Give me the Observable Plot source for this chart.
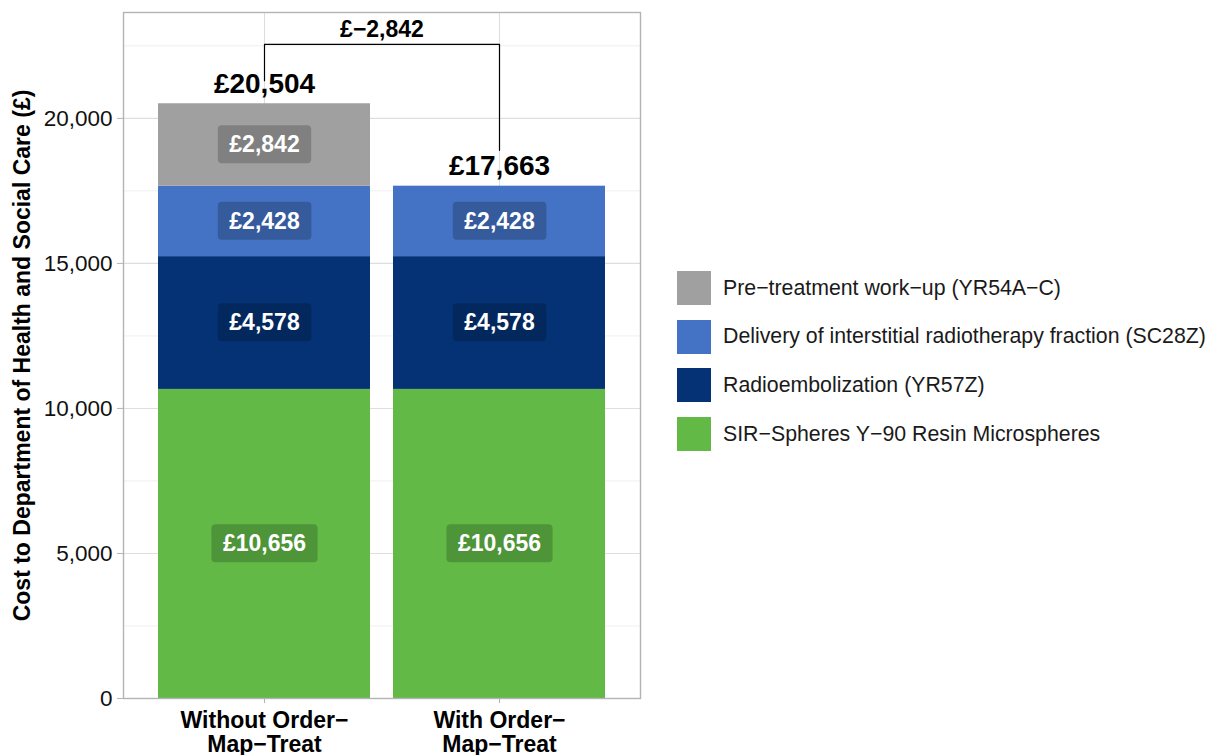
<!DOCTYPE html>
<html><head><meta charset="utf-8">
<script src="https://cdn.jsdelivr.net/npm/d3@7"></script>
<script src="https://cdn.jsdelivr.net/npm/@observablehq/plot@0.6"></script>
<style>
body{margin:0;background:#fff;font-family:"Liberation Sans",Arial,sans-serif;}
#wrap{position:relative;width:1209px;height:755px;overflow:hidden;}
#legend{position:absolute;left:677px;top:271px;}
.item{display:flex;align-items:center;height:34px;margin-bottom:14.7px;}
.sw{width:34px;height:34px;margin-right:12px;flex:none;}
.lab{font-size:21.3px;color:#1a1a1a;white-space:nowrap;}
svg{overflow:visible;}
</style></head><body><div id="wrap"><div id="chart"></div><div id="legend"></div></div>
<script>
const scenarios = ["Without Order−Map−Treat", "With Order−Map−Treat"];
const xTickLabels = ["Without Order−\nMap−Treat", "With Order−\nMap−Treat"];
const categories = ["SIR−Spheres Y−90 Resin Microspheres", "Radioembolization (YR57Z)", "Delivery of interstitial radiotherapy fraction (SC28Z)", "Pre−treatment work−up (YR54A−C)"];
const colors = ["#62B946", "#043275", "#4472C4", "#A0A0A0"];
const withoutValues = [10656, 4578, 2428, 2842];
const withValues = [10656, 4578, 2428, 0];
const totals = [20504, 17663];
const difference = -2842;
const bracketY = [21300, 22550, 22550, 18900];
const differenceY = 23050;
const yTicks = [0, 5000, 10000, 15000, 20000];
const yMinor = [2500, 7500, 12500, 17500, 22500];
const yMax = 23650;
const yTitle = "Cost to Department of Health and Social Care (£)";
const legendOrder = [3, 2, 1, 0];

const fmt = d3.format(",");
const rows = [];
scenarios.forEach((s, i) => {
  const vals = i === 0 ? withoutValues : withValues;
  categories.forEach((c, j) => { if (vals[j] > 0) rows.push({scenario: s, category: c, value: vals[j], color: colors[j]}); });
});
const totalRows = scenarios.map((s, i) => ({scenario: s, total: totals[i]}));
const bracket = [
  {scenario: scenarios[0], y: bracketY[0]},
  {scenario: scenarios[0], y: bracketY[1]},
  {scenario: scenarios[1], y: bracketY[2]},
  {scenario: scenarios[1], y: bracketY[3]}
];

const chart = Plot.plot({
  width: 1209, height: 755,
  marginLeft: 123, marginRight: 569, marginTop: 12, marginBottom: 57,
  style: {fontFamily: '"Liberation Sans", Arial, sans-serif', background: "#fff", overflow: "visible"},
  x: {domain: scenarios, paddingInner: 0.1, paddingOuter: 0.15},
  y: {domain: [0, yMax]},
  color: {type: "identity"},
  marks: [
    Plot.gridY(yMinor, {stroke: "#EBEBEB", strokeOpacity: 1, strokeWidth: 0.8}),
    Plot.gridY(yTicks, {stroke: "#DEDEDE", strokeOpacity: 1, strokeWidth: 1.1}),
    Plot.gridX(scenarios, {stroke: "#DEDEDE", strokeOpacity: 1, strokeWidth: 1.1}),
    Plot.barY(rows, Plot.stackY({x: "scenario", y: "value", z: "category", fill: "color", inset: 0})),
    Plot.text(rows, Plot.stackY({x: "scenario", y: "value", z: "category", text: d => "£" + fmt(d.value), fill: "white", fontWeight: "bold", fontSize: 23})),
    Plot.text(totalRows, {x: "scenario", y: "total", text: d => "£" + fmt(d.total), dy: -20, fontSize: 28, fontWeight: "bold", fill: "black"}),
    Plot.line(bracket, {x: "scenario", y: "y", stroke: "black", strokeWidth: 1.2}),
    Plot.text([difference], {y: () => differenceY, text: d => "£" + fmt(d), fontSize: 23, fontWeight: "bold", fill: "black", frameAnchor: "middle"}),
    Plot.frame({stroke: "#B3B3B3", strokeWidth: 1.4}),
    Plot.axisY(yTicks, {tickFormat: d => fmt(d), fontSize: 22.5, tickSize: 6, tickPadding: 5, stroke: "#B3B3B3", fill: "#111", label: null}),
    Plot.axisX(scenarios, {tickFormat: d => xTickLabels[scenarios.indexOf(d)], fontSize: 23, fontWeight: "bold", lineHeight: 1.04, tickSize: 5, tickPadding: 8, stroke: "#B3B3B3", fill: "black", label: null}),
    Plot.text([yTitle], {frameAnchor: "left", rotate: -90, dx: -101, textAnchor: "middle", text: d => d, fontSize: 23, fontWeight: "bold", fill: "black"})
  ]
});
document.getElementById("chart").append(chart);

// label boxes behind the white segment labels
const ns = "http://www.w3.org/2000/svg";
const segStrings = new Set(rows.map(d => "£" + fmt(d.value)));
chart.querySelectorAll("g").forEach(g => {
  if (g.getAttribute("fill") !== "white") return;
  const texts = Array.from(g.children).filter(t => t.tagName.toLowerCase() === "text" && segStrings.has(t.textContent));
  texts.forEach(t => {
    const b = t.getBBox();
    const r = document.createElementNS(ns, "rect");
    const px = 11.5, py = 6;
    r.setAttribute("x", b.x - px); r.setAttribute("y", b.y - py);
    r.setAttribute("width", b.width + 2 * px); r.setAttribute("height", b.height + 2 * py);
    r.setAttribute("rx", 4); r.setAttribute("ry", 4);
    r.setAttribute("fill", "black"); r.setAttribute("fill-opacity", 0.2); r.setAttribute("stroke", "none");
    if (t.getAttribute("transform")) r.setAttribute("transform", t.getAttribute("transform"));
    g.insertBefore(r, t);
  });
});

const legend = document.getElementById("legend");
legendOrder.forEach(j => {
  const it = document.createElement("div"); it.className = "item";
  const sw = document.createElement("div"); sw.className = "sw"; sw.style.background = colors[j];
  const lb = document.createElement("div"); lb.className = "lab"; lb.textContent = categories[j];
  it.append(sw, lb); legend.append(it);
});
</script></body></html>
